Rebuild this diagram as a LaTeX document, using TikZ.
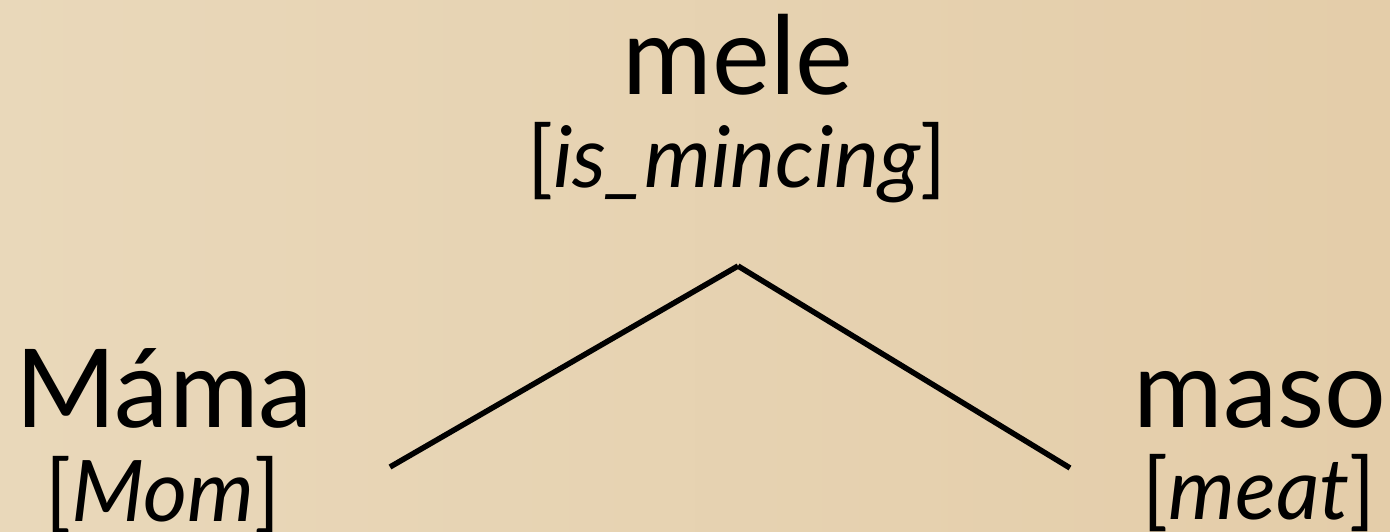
\documentclass[tikz,border=0pt]{standalone}
\usepackage{fontspec}
\setmainfont{Lato}
\begin{document}
\begin{tikzpicture}[x=1pt,y=1pt,
  word/.style={anchor=base,inner sep=0pt,font=\fontsize{109}{112}\selectfont},
  gloss/.style={anchor=base,inner sep=0pt,font=\fontsize{85}{88}\selectfont},
  branch/.style={line width=5.5pt}]
\definecolor{bgleft}{HTML}{E9D8BA}
\definecolor{bgright}{HTML}{E4CDA9}
\shade[left color=bgleft,right color=bgright] (0,0) rectangle (1390,532);
\useasboundingbox (0,0) rectangle (1390,532);
\node[word] (mele) at (738,437) {mele};
\node[gloss] (melegl) at (737,344) {[\textit{is\_mincing}]};
\node[word] (mama) at (164,104) {Máma};
\node[gloss] (mamagl) at (163,10) {[\textit{Mom}]};
\node[word] (maso) at (1260,104) {maso};
\node[gloss] (masogl) at (1259,12) {[\textit{meat}]};
\coordinate (apex) at (738,266);
\coordinate (lend) at (390,65);
\coordinate (rend) at (1070,64);
\draw[branch] (apex) -- (lend);
\draw[branch] (apex) -- (rend);
\end{tikzpicture}
\end{document}
